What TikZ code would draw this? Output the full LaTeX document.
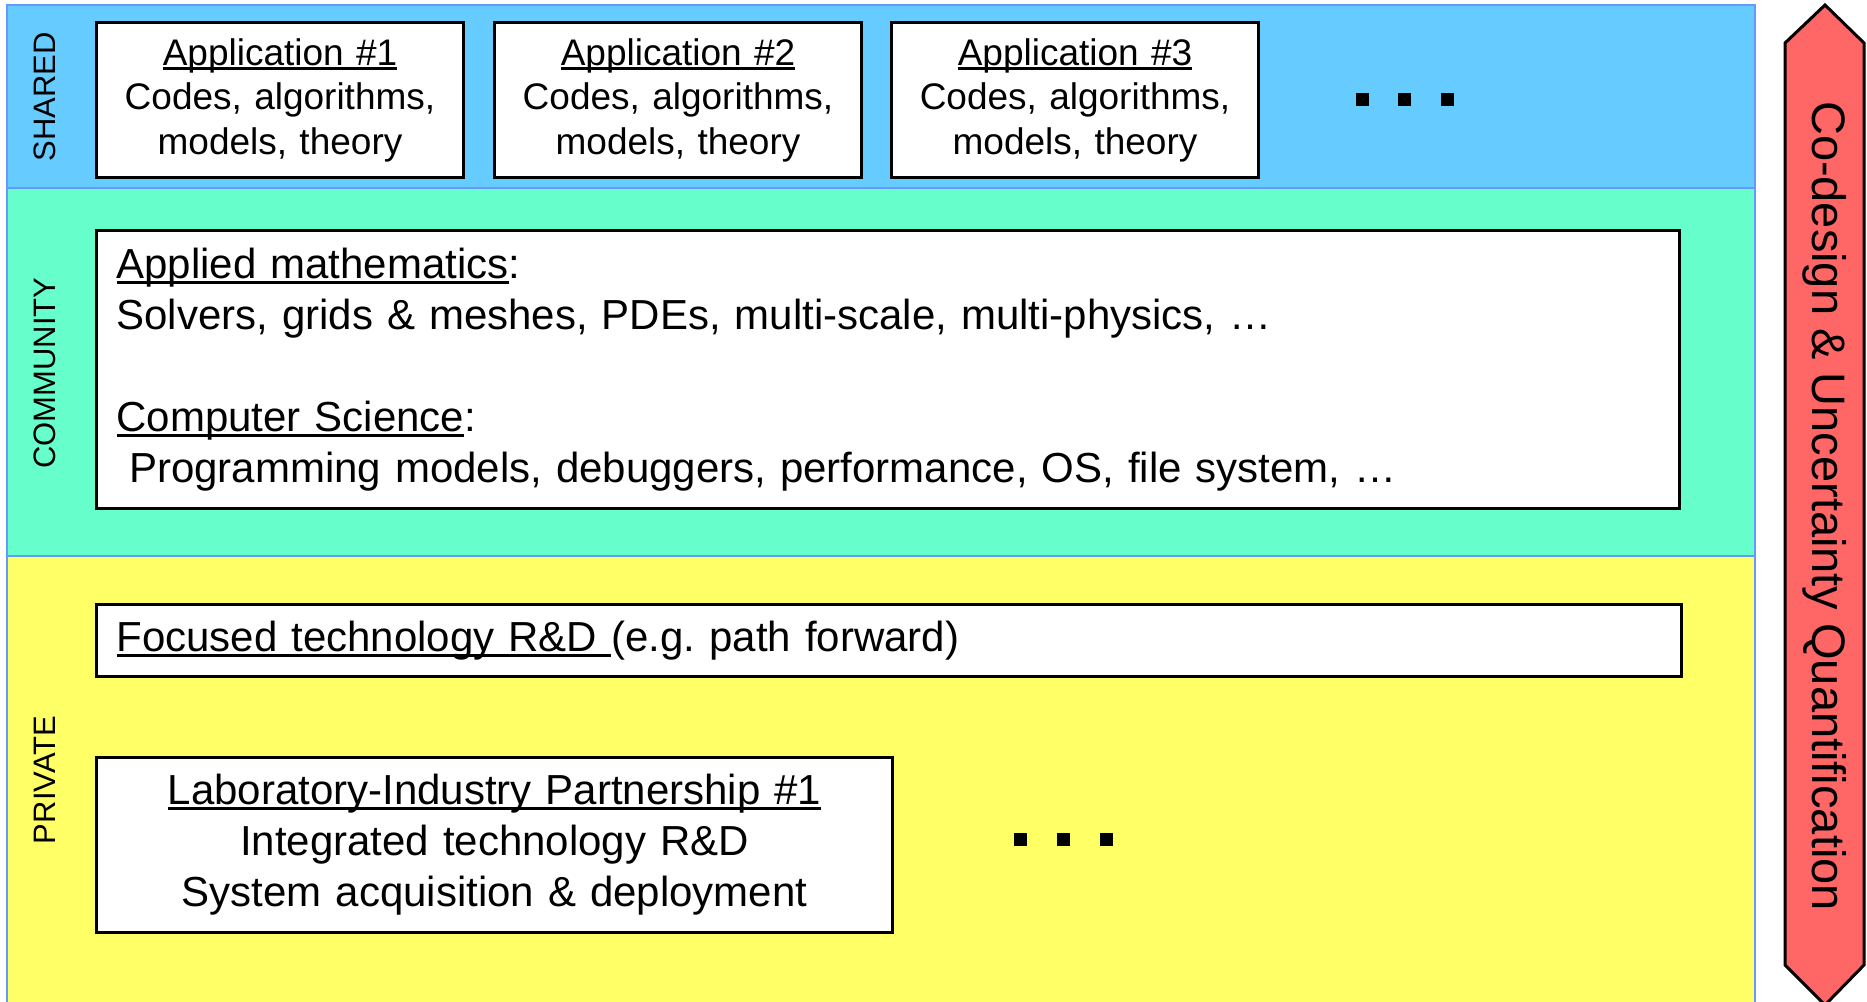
\documentclass[tikz,border=0pt]{standalone}
\usepackage{fontspec}
\setmainfont{Liberation Sans}
\frenchspacing
\newcommand{\myul}[1]{\leavevmode\setbox0\hbox{#1}\rlap{\rule[-0.13em]{\wd0}{0.07em}}\box0}
\definecolor{sharedc}{HTML}{66CCFF}
\definecolor{commc}{HTML}{66FFCC}
\definecolor{privc}{HTML}{FFFF66}
\definecolor{arrowc}{HTML}{FF6666}
\definecolor{panelline}{HTML}{6699FF}
\begin{document}
\begin{tikzpicture}[x=1pt,y=-1pt,
  panel/.style={draw=panelline, line width=2pt},
  wbox/.style={draw=black, line width=3pt, fill=white, anchor=north west},
  appbox/.style={wbox, inner sep=0pt, text width=367pt, minimum height=155pt, align=center,
    font=\fontsize{37}{44.5}\selectfont},
  sidelabel/.style={rotate=90, inner sep=0pt, font=\fontsize{31}{36}\selectfont},
  dotsq/.style={fill=black, minimum size=13pt, inner sep=0pt}
]
\useasboundingbox (0,0) rectangle (1867,1001);
\clip (0,0) rectangle (1867,1001);
% panels
\fill[white] (0,0) rectangle (1867,1001);
\path[panel, fill=sharedc] (7,5) rectangle (1755,188);
\path[panel, fill=commc] (7,188) rectangle (1755,556);
\path[panel, fill=privc] (7,556) rectangle (1755,1015);
% side labels
\node[sidelabel] (lshared) at (45,97) {SHARED};
\node[sidelabel] (lcomm) at (45,373) {COMMUNITY};
\node[sidelabel] (lpriv) at (45,780) {PRIVATE};
% application boxes
\node[appbox] (app1) at (95,21) {\myul{Application \#1}\\Codes, algorithms,\\models, theory};
\node[appbox] (app2) at (493,21) {\myul{Application \#2}\\Codes, algorithms,\\models, theory};
\node[appbox] (app3) at (890,21) {\myul{Application \#3}\\Codes, algorithms,\\models, theory};
\node[dotsq] (sd1) at (1362,99) {};
\node[dotsq] (sd2) at (1404,99) {};
\node[dotsq] (sd3) at (1447,99) {};
% community box
\node[wbox, inner xsep=20pt, inner ysep=0pt, text width=1543pt, minimum height=278pt, align=left,
  font=\fontsize{42}{51}\selectfont] (comm) at (95,229)
  {\myul{Applied mathematics}:\\
   Solvers, grids \& meshes, PDEs, multi-scale, multi-physics, …\\[51pt]
   \myul{Computer Science}:\\
   \hspace*{0.3em}Programming models, debuggers, performance, OS, file system, …};
% private boxes
\node[wbox, inner xsep=20pt, inner ysep=0pt, text width=1545pt, minimum height=72pt, align=left,
  font=\fontsize{42}{51}\selectfont] (focus) at (95,603)
  {\myul{Focused technology R\&D }(e.g. path forward)};
\node[wbox, inner sep=0pt, text width=796pt, minimum height=175pt, align=center,
  font=\fontsize{42}{51}\selectfont] (lab) at (95,756)
  {\myul{Laboratory-Industry Partnership \#1}\\Integrated technology R\&D\\System acquisition \& deployment};
\node[dotsq] (pd1) at (1020,839) {};
\node[dotsq] (pd2) at (1063,839) {};
\node[dotsq] (pd3) at (1106,839) {};
% co-design arrow
\draw[line width=3pt, line join=miter, fill=arrowc]
  (1785,43) -- (1825,5) -- (1864,43) -- (1864,965) -- (1825,1005) -- (1785,965) -- cycle;
\node[rotate=-90, inner sep=0pt, font=\fontsize{47}{56}\selectfont] (codesign) at (1825,506)
  {Co-design \& Uncertainty Quantification};
\end{tikzpicture}
\end{document}
